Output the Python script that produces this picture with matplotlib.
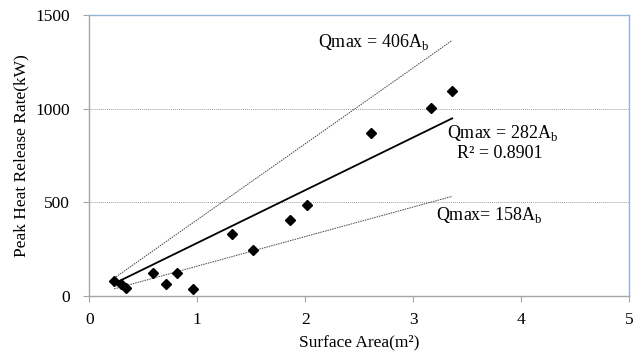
import numpy as np
import matplotlib
matplotlib.use("Agg")
import matplotlib.pyplot as plt

plt.rcParams['font.family'] = ['Liberation Serif', 'DejaVu Serif']
plt.rcParams['mathtext.fontset'] = 'custom'
plt.rcParams['mathtext.rm'] = 'Liberation Serif'

# measured points
area = [0.23, 0.29, 0.34, 0.59, 0.71, 0.81, 0.96, 1.32, 1.52, 1.86, 2.02, 2.61, 3.16, 3.36]
hrr = [77, 64, 43, 120, 61, 120, 34, 328, 243, 406, 486, 871, 1001, 1092]

# fitted slopes (kW per m2)
slope_fit = 282
slope_hi = 406
slope_lo = 158
r2 = 0.8901

grid_c = '#a0a0a0'
axis_c = '#a6a6a6'
frame_c = '#95b3d7'

fig = plt.figure(figsize=(6.39, 3.56), dpi=100)
ax = fig.add_axes([0.1397, 0.1694, 0.8451, 0.7885])

xs = np.array([min(area), max(area)])
ax.plot(xs, slope_hi * xs, color='#444444', lw=0.7, ls=(0, (1.5, 1)))
ax.plot(xs, slope_lo * xs, color='#444444', lw=0.7, ls=(0, (1.5, 1)))
xf = np.array([0.25, max(area)])
ax.plot(xf, slope_fit * xf, color='black', lw=1.3)
ax.plot(area, hrr, ls='none', marker='D', ms=5.3, color='black')

ax.set_xlim(0, 5)
ax.set_ylim(0, 1500)
ax.set_xticks(range(0, 6))
ax.set_yticks([0, 500, 1000, 1500])
for y in [500, 1000]:
    ax.axhline(y, color=grid_c, lw=0.7, ls=(0, (1, 1)), zorder=0)

ax.spines['left'].set_color(axis_c)
ax.spines['bottom'].set_color(axis_c)
ax.spines['top'].set_color(frame_c)
ax.spines['right'].set_color(frame_c)
for s in ax.spines.values():
    s.set_linewidth(1.0)
ax.tick_params(axis='both', direction='out', color=axis_c, labelsize=12.5, length=4.5)
ax.tick_params(axis='y', pad=9.5)
ax.tick_params(axis='x', pad=7)

ax.set_xlabel('Surface Area(m²)', fontsize=12.5, labelpad=5)
ax.set_ylabel('Peak Heat Release Rate(kW)', fontsize=12.5, labelpad=4)

ax.text(2.118, 1328, 'Qmax = %dA$_\\mathregular{b}$' % slope_hi, fontsize=13, va='baseline')
ax.text(3.309, 841, 'Qmax = %dA$_\\mathregular{b}$' % slope_fit, fontsize=13, va='baseline')
ax.text(3.405, 734, 'R² = %.4f' % r2, fontsize=13, va='baseline')
ax.text(3.21, 405, 'Qmax= %dA$_\\mathregular{b}$' % slope_lo, fontsize=13, va='baseline')

fig.savefig('out.png', dpi=100)
